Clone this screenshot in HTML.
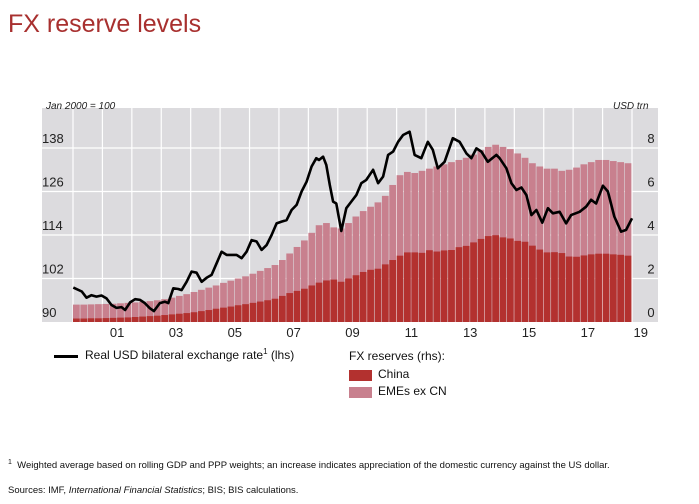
<!DOCTYPE html>
<html><head><meta charset="utf-8"><style>
body{margin:0;background:#fff;width:699px;height:504px;overflow:hidden;font-family:"Liberation Sans",sans-serif;position:relative}
.t{position:absolute;white-space:nowrap}
</style></head><body>
<div class="t" style="left:8px;top:10px;font-size:25px;color:#a8302f;">FX reserve levels</div>
<svg id="chart" width="699" height="504" style="position:absolute;left:0;top:0"></svg>
<script>
const lineT=[2000.01,2000.30,2000.46,2000.63,2000.80,2000.97,2001.14,2001.31,2001.48,2001.65,2001.77,2001.94,2002.11,2002.28,2002.44,2002.61,2002.75,2002.95,2003.12,2003.24,2003.41,2003.58,2003.69,2003.86,2004.03,2004.20,2004.37,2004.54,2004.71,2004.88,2005.05,2005.22,2005.39,2005.56,2005.73,2005.90,2006.07,2006.24,2006.41,2006.58,2006.75,2006.92,2007.09,2007.26,2007.43,2007.60,2007.77,2007.94,2008.11,2008.27,2008.36,2008.50,2008.61,2008.73,2008.84,2008.95,2009.12,2009.29,2009.46,2009.63,2009.80,2009.97,2010.20,2010.37,2010.54,2010.71,2010.88,2011.05,2011.22,2011.44,2011.61,2011.84,2012.06,2012.23,2012.40,2012.63,2012.91,2013.14,2013.37,2013.54,2013.71,2013.88,2014.10,2014.39,2014.50,2014.73,2014.90,2015.07,2015.24,2015.41,2015.58,2015.75,2015.95,2016.14,2016.31,2016.54,2016.76,2016.93,2017.22,2017.44,2017.61,2017.78,2018.01,2018.18,2018.40,2018.63,2018.80,2019.00];
const lineV=[99.5,98.4,96.7,97.4,97.0,97.3,96.5,94.7,93.9,94.1,93.3,95.4,96.3,96.1,95.2,93.8,93.0,95.2,95.6,95.2,99.3,99.1,98.8,101.1,103.9,103.6,101.1,102.2,103.0,106.2,109.4,108.5,108.5,108.5,107.6,109.4,112.6,112.2,109.9,111.2,114.0,117.2,117.7,118.1,120.9,122.3,126.0,128.7,132.9,135.2,134.7,135.6,133.3,127.8,123.2,122.7,115.1,121.4,123.2,125.0,128.3,129.2,132.0,128.3,130.1,136.1,137.0,139.7,141.6,142.5,136.1,135.2,139.7,137.5,132.4,134.2,140.7,139.7,136.5,135.2,137.9,137.0,134.2,136.1,135.2,132.4,128.3,126.4,127.1,125.0,119.5,120.9,117.4,121.4,120.0,120.4,117.2,119.5,120.4,121.8,123.7,122.7,127.6,126.0,119.1,114.9,115.4,118.6];
const totalRes=[.80,.80,.81,.82,.83,.84,.86,.88,.90,.93,.96,1.00,1.05,1.12,1.20,1.28,1.38,1.48,1.58,1.68,1.80,1.90,2.00,2.10,2.22,2.35,2.48,2.62,2.85,3.15,3.45,3.75,4.10,4.45,4.55,4.35,4.30,4.55,4.85,5.10,5.30,5.50,5.80,6.30,6.75,6.90,6.85,6.95,7.05,7.15,7.25,7.35,7.45,7.55,7.70,7.90,8.05,8.15,8.05,7.95,7.75,7.55,7.30,7.15,7.05,7.05,6.95,7.00,7.10,7.25,7.35,7.45,7.45,7.40,7.35,7.30];
const chinaRes=[.16,.16,.17,.17,.18,.19,.20,.21,.23,.25,.27,.29,.32,.35,.38,.41,.45,.50,.55,.61,.66,.71,.77,.82,.88,.94,1.00,1.07,1.20,1.33,1.43,1.53,1.68,1.81,1.91,1.95,1.85,2.00,2.15,2.30,2.40,2.45,2.65,2.85,3.05,3.20,3.20,3.18,3.30,3.24,3.29,3.31,3.44,3.50,3.66,3.82,3.95,3.99,3.89,3.84,3.73,3.69,3.51,3.33,3.20,3.21,3.17,3.01,3.00,3.06,3.11,3.14,3.14,3.11,3.09,3.05];
const leftTicks=[90,102,114,126,138];
const rightTicks=[0,2,4,6,8];
const yearLabels=["01","03","05","07","09","11","13","15","17","19"];

const NS="http://www.w3.org/2000/svg";
const svg=document.getElementById('chart');
const X0=73,X1=632,Y0=322,Y1=148;
const xS=t=>X0+(t-2000)*(X1-X0)/19;
const yL=v=>Y0-(v-90)*(Y0-Y1)/48;
const yR=v=>Y0-v*(Y0-Y1)/8;
function mk(tag,attrs,parent){const e=document.createElementNS(NS,tag);for(const k in attrs)e.setAttribute(k,attrs[k]);(parent||svg).appendChild(e);return e;}

const bg=mk('rect',{x:42,y:108,width:616,height:214,fill:'#dcdbde'});



// grid
for(let y=2000;y<=2019;y++){
  const g=mk('line',{x1:xS(y),x2:xS(y),y1:108,y2:Y0,stroke:'#fff','stroke-width':1.2});
  
  
}
leftTicks.forEach((v,i)=>{
  if(i>0){const g=mk('line',{x1:42,x2:658,y1:yL(v),y2:yL(v),stroke:'#fff','stroke-width':1.2});
  
  }
  const t=mk('text',{x:42,y:yL(v)-5,'font-size':13,fill:'#222'});t.textContent=v;
  
  
});
rightTicks.forEach(v=>{
  const t=mk('text',{x:651,y:yR(v)-5,'font-size':13,fill:'#222','text-anchor':'middle'});t.textContent=v;
  
  
});
yearLabels.forEach((l,i)=>{
  const t=mk('text',{x:xS(2001.5+2*i)+(i==9?-6:0),y:337,'font-size':13,fill:'#222','text-anchor':'middle'});t.textContent=l;
  
  
});
// bars
const qw=(X1-X0)/76;
totalRes.forEach((v,i)=>{
  const x=xS(2000+i/4);
  const r1=mk('rect',{x:x,y:yR(v),width:qw-0.6,height:Y0-yR(v),fill:'#c8808e'});
  
  
  const c=chinaRes[i];
  const r2=mk('rect',{x:x,y:yR(c),width:qw-0.6,height:Y0-yR(c),fill:'#b3312f'});
  
  
});
// line
let d='';lineT.forEach((t,i)=>{d+=(i?'L':'M')+xS(t).toFixed(1)+','+yL(lineV[i]).toFixed(1);});
const p=mk('path',{d:d,fill:'none',stroke:'#000','stroke-width':2.6,'stroke-linejoin':'round'});


</script>
<div class="t" style="left:46px;top:101px;font-size:10px;font-style:italic;color:#222">Jan 2000 = 100</div>
<div class="t" style="left:613px;top:101px;font-size:10px;font-style:italic;color:#222">USD trn</div>
<div class="t" style="left:54px;top:355px;width:24px;height:3px;background:#000"></div>
<div class="t" style="left:85px;top:347px;font-size:12px;color:#111">Real USD bilateral exchange rate<sup style="font-size:8px">1</sup> (lhs)</div>
<div class="t" style="left:349px;top:349px;font-size:12px;color:#111">FX reserves (rhs):</div>
<div class="t" style="left:349px;top:370px;width:23px;height:11px;background:#b3312f"></div>
<div class="t" style="left:378px;top:367px;font-size:12px;color:#111">China</div>
<div class="t" style="left:349px;top:387px;width:23px;height:11px;background:#c8808e"></div>
<div class="t" style="left:378px;top:384px;font-size:12px;color:#111">EMEs ex CN</div>
<div class="t" style="left:8px;top:459px;font-size:9.5px;color:#111"><sup style="font-size:7px">1</sup>&nbsp; Weighted average based on rolling GDP and PPP weights; an increase indicates appreciation of the domestic currency against the US dollar.</div>
<div class="t" style="left:8px;top:485px;font-size:9.5px;color:#111">Sources: IMF, <i>International Financial Statistics</i>; BIS; BIS calculations.</div>
</body></html>
